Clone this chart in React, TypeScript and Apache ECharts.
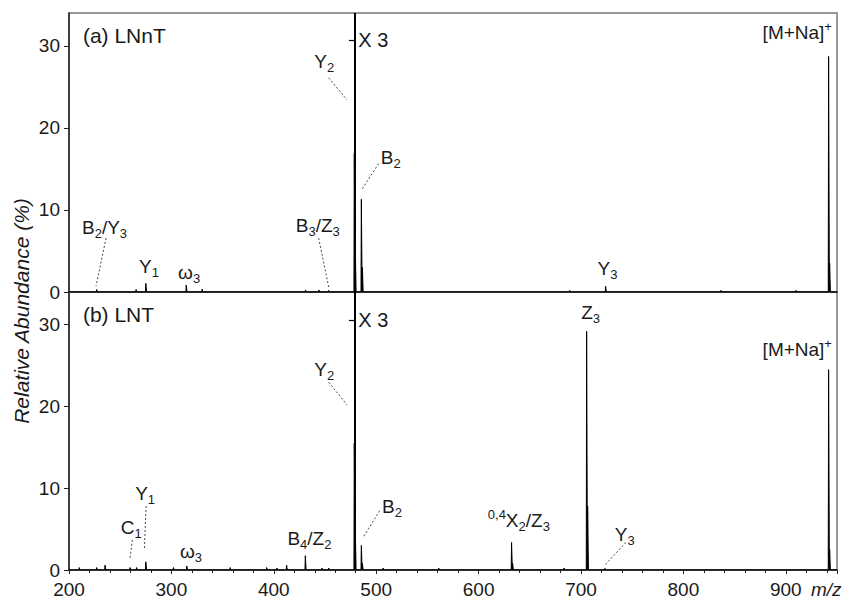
import React, { useEffect, useRef } from 'react';
import * as echarts from 'echarts';

const FONT = '"Liberation Sans", Arial, Helvetica, sans-serif';
const INK = '#1a1a1a';

const X_MIN = 200;
const X_MAX = 950;
const X_INTERVAL = 100;
const Y_MAX = 34;
const Y_INTERVAL = 10;

// (a) LNnT peaks: m/z and relative abundance (%)
const peaksA_mz = [227, 265.5, 275, 314.5, 330, 431, 444, 453.6, 478.6, 479.6, 485.5, 486.5, 689, 724, 836.6, 910, 941.8, 942.8];
const peaksA_int = [0.3, 0.3, 1.05, 0.85, 0.35, 0.25, 0.25, 0.2, 16.9, 5.5, 11.3, 3.0, 0.2, 0.7, 0.2, 0.2, 28.7, 3.5];

// (b) LNT peaks
const peaksB_mz = [210, 227, 235.2, 259.6, 266, 275, 302, 315, 357.4, 393, 403, 412.5, 430.8, 447, 453.6, 478.6, 479.6, 485.5, 486.5, 506.7, 561, 632.2, 633.2, 683.4, 705.5, 706.5, 723.4, 941.8, 942.8];
const peaksB_int = [0.3, 0.3, 0.6, 0.3, 0.3, 1.0, 0.3, 0.5, 0.3, 0.3, 0.25, 0.6, 1.75, 0.25, 0.25, 15.5, 5.0, 3.0, 0.8, 0.25, 0.25, 3.37, 0.8, 0.25, 29.2, 7.8, 0.2, 24.5, 2.5];

// "X 3" magnification marker
const scaleBreakMz = 478.6;
const scaleMarkA = 30.66;
const scaleMarkB = 30.6;

// Peak annotations (rich text, anchor in data coords)
const labelsA: { text: string; at: [number, number] }[] = [
  { text: '{b|B}{s|2}{b|/Y}{s|3}', at: [234.7, 7.9] },
  { text: '{b|Y}{s|1}', at: [278.2, 3.1] },
  { text: '{b|ω}{s|3}', at: [317.3, 2.35] },
  { text: '{b|B}{s|3}{b|/Z}{s|3}', at: [443, 8.1] },
  { text: '{b|Y}{s|2}', at: [449.3, 28.1] },
  { text: '{b|B}{s|2}', at: [514.2, 16.35] },
  { text: '{b|Y}{s|3}', at: [725.8, 2.85] },
  { text: '{b|[M+Na]}{p|+}', at: [911.2, 31.6] },
];
const leadersA: [number, number][][] = [
  [[236.2, 6.57], [226.4, 0.73]],
  [[443.8, 6.57], [453.6, 0.61]],
  [[453.6, 26.1], [471.5, 23.4]],
  [[502.4, 15.65], [485.5, 12.4]],
];

const labelsB: { text: string; at: [number, number] }[] = [
  { text: '{b|Y}{s|1}', at: [274.3, 9.3] },
  { text: '{b|C}{s|1}', at: [260.8, 5.17] },
  { text: '{b|ω}{s|3}', at: [319.1, 2.25] },
  { text: '{b|B}{s|4}{b|/Z}{s|2}', at: [434.8, 3.83] },
  { text: '{b|Y}{s|2}', at: [449.3, 24.57] },
  { text: '{b|B}{s|2}', at: [515.5, 7.76] },
  { text: '{p|0,4}{b|X}{s|2}{b|/Z}{s|3}', at: [639.3, 6.1] },
  { text: '{b|Z}{s|3}', at: [709.4, 31.55] },
  { text: '{b|[M+Na]}{p|+}', at: [911.2, 27.0] },
  { text: '{b|Y}{s|3}', at: [742.7, 4.32] },
];
const leadersB: [number, number][][] = [
  [[275.3, 7.82], [273.6, 2.55]],
  [[261.9, 3.69], [259.6, 1.42]],
  [[453.6, 22.96], [471.5, 20.2]],
  [[503.4, 7.24], [487.1, 3.98]],
  [[743.7, 3.37], [723.4, 0.61]],
];

const panelTitleA = '(a) LNnT';
const panelTitleB = '(b) LNT';
const panelTitleAt: [number, number] = [213.6, 31.2];

const rich = {
  b: { fontSize: 19, lineHeight: 22, fontFamily: FONT, color: INK },
  s: { fontSize: 13, lineHeight: 14, padding: [12, 0, 0, 0], fontFamily: FONT, color: INK },
  p: { fontSize: 13, lineHeight: 14, padding: [0, 0, 12, 0], fontFamily: FONT, color: INK },
};

function spectrum(mz: number[], inten: number[]) {
  const pts: number[][] = [[X_MIN, 0]];
  mz.forEach((m, i) => {
    pts.push([m - 0.35, 0], [m, inten[i]], [m + 0.75, 0]);
  });
  pts.push([X_MAX, 0]);
  return pts;
}

function panelSeries(idx: number, mz: number[], inten: number[], labels: { text: string; at: [number, number] }[], leaders: [number, number][][], title: string, markY: number) {
  const leaderLines = leaders.map((l) => [
    { coord: l[0], lineStyle: { type: [2, 2], width: 0.9, color: '#333' } },
    { coord: l[1] },
  ]);
  return {
    type: 'line',
    xAxisIndex: idx,
    yAxisIndex: idx,
    data: spectrum(mz, inten),
    symbol: 'none',
    silent: true,
    lineStyle: { color: '#000', width: 1 },
    areaStyle: { color: '#000', opacity: 1 },
    markLine: {
      silent: true,
      symbol: ['none', 'none'],
      label: { show: false },
      data: [
        { xAxis: scaleBreakMz, lineStyle: { type: 'solid', width: 2, color: '#000' } },
        [
          {
            coord: [473.4, markY],
            lineStyle: { type: 'solid', width: 1.2, color: '#000' },
            label: { show: true, position: 'end', formatter: 'X 3', distance: 4, fontSize: 20, fontFamily: FONT, color: INK },
          },
          { coord: [scaleBreakMz, markY] },
        ],
        ...leaderLines,
      ],
    },
    markPoint: {
      silent: true,
      symbol: 'circle',
      symbolSize: 0,
      itemStyle: { color: 'transparent' },
      data: [
        ...labels.map((l) => ({
          coord: l.at,
          label: { show: true, position: 'inside', formatter: l.text, rich },
        })),
        {
          coord: panelTitleAt,
          label: { show: true, position: 'right', distance: 0, formatter: title, fontSize: 21, fontFamily: FONT, color: INK },
        },
      ],
    },
  };
}

const axisLineStyle = { color: '#222', width: 1.5 };

export default function App() {
  const ref = useRef<HTMLDivElement>(null);
  useEffect(() => {
    document.body.style.margin = '0';
    if (!ref.current) return;
    const chart = echarts.init(ref.current, undefined, { renderer: 'svg' });
    const yAxisBase = {
      type: 'value',
      min: 0,
      max: Y_MAX,
      interval: Y_INTERVAL,
      axisLine: { show: true, lineStyle: axisLineStyle },
      axisTick: { show: true, length: 5, lineStyle: { color: '#222', width: 1 } },
      axisLabel: { fontSize: 19, color: INK, margin: 9, fontFamily: FONT, showMaxLabel: false },
      splitLine: { show: false },
    };
    chart.setOption({
      animation: false,
      backgroundColor: '#fff',
      grid: [
        { left: 69, top: 13, width: 768, height: 279, show: true, borderColor: '#777', borderWidth: 1.5 },
        { left: 69, top: 292, width: 768, height: 279, show: true, borderColor: '#777', borderWidth: 1.5 },
      ],
      xAxis: [
        {
          type: 'value', gridIndex: 0, min: X_MIN, max: X_MAX, interval: X_INTERVAL,
          axisLine: { show: true, onZero: false, lineStyle: axisLineStyle },
          axisTick: { show: false },
          axisLabel: { show: false },
          splitLine: { show: false },
        },
        {
          type: 'value', gridIndex: 1, min: X_MIN, max: X_MAX, interval: X_INTERVAL,
          axisLine: { show: true, onZero: false, lineStyle: axisLineStyle },
          axisTick: { show: true, length: 4, lineStyle: { color: '#222', width: 1 } },
          minorTick: { show: true, splitNumber: 5, length: 3, lineStyle: { color: '#222', width: 1 } },
          axisLabel: { fontSize: 19, color: INK, margin: 10, fontFamily: FONT, showMaxLabel: false },
          splitLine: { show: false },
          name: 'm/z',
          nameLocation: 'end',
          nameGap: -26,
          nameTextStyle: { fontSize: 19, fontStyle: 'italic', fontFamily: FONT, color: INK, align: 'left', verticalAlign: 'top', padding: [10, 0, 0, 0] },
        },
      ],
      yAxis: [
        { ...yAxisBase, gridIndex: 0 },
        { ...yAxisBase, gridIndex: 1 },
      ],
      graphic: [
        {
          type: 'text',
          x: 21,
          y: 311,
          rotation: Math.PI / 2,
          style: {
            text: 'Relative Abundance (%)',
            fontSize: 21,
            fontStyle: 'italic',
            fontFamily: FONT,
            fill: INK,
            align: 'center',
            verticalAlign: 'middle',
          },
        },
      ],
      series: [
        panelSeries(0, peaksA_mz, peaksA_int, labelsA, leadersA, panelTitleA, scaleMarkA),
        panelSeries(1, peaksB_mz, peaksB_int, labelsB, leadersB, panelTitleB, scaleMarkB),
      ],
    });
    return () => chart.dispose();
  }, []);
  return <div ref={ref} style={{ width: 843, height: 599 }} />;
}
